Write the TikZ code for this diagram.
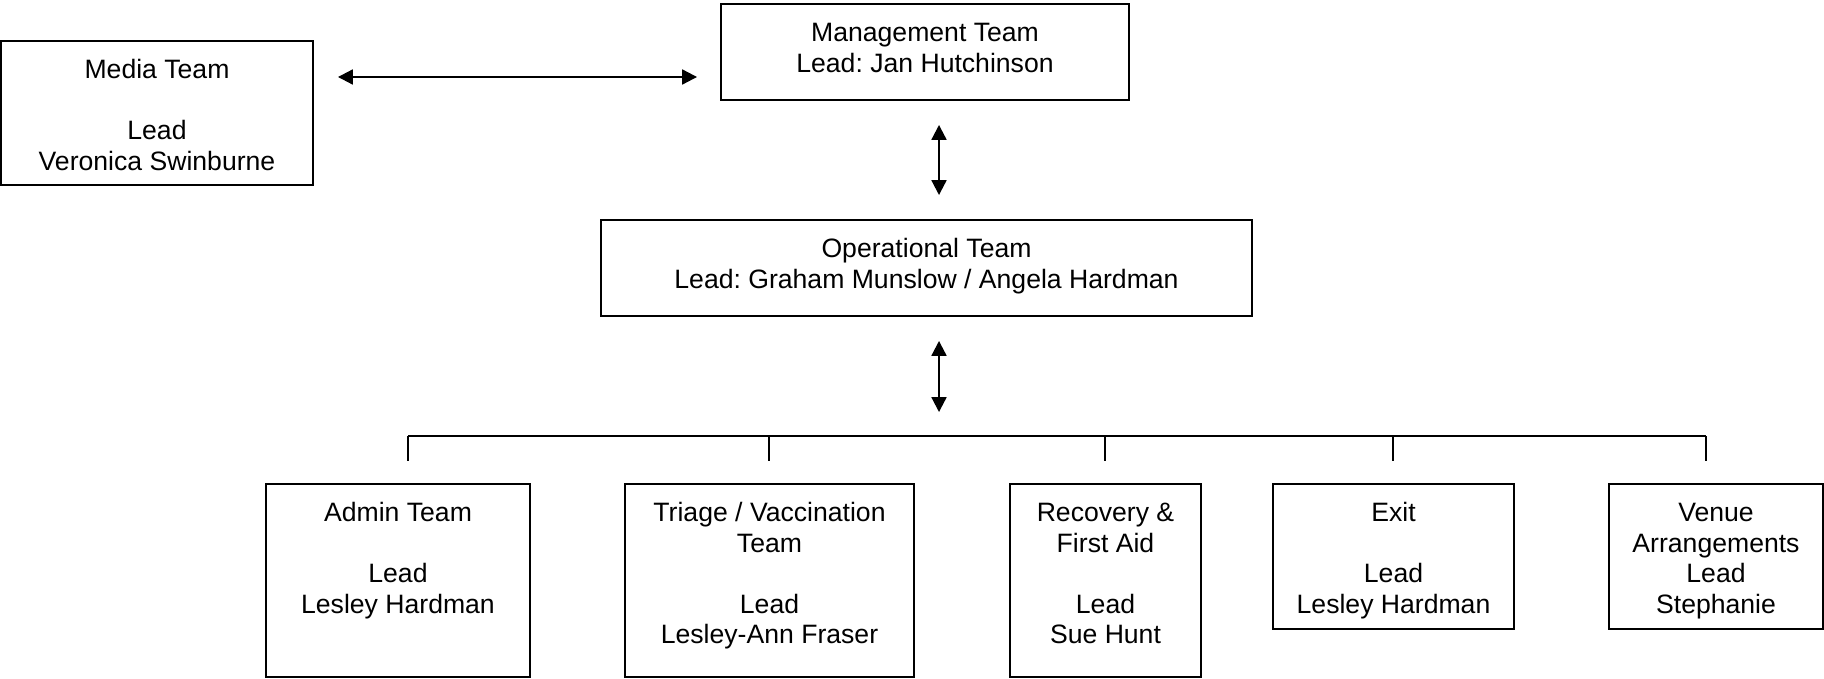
\documentclass[tikz,border=0pt]{standalone}
\usepackage{fontspec}
\setmainfont{Liberation Sans}
\usetikzlibrary{arrows.meta}
\frenchspacing
\tikzset{
  box/.style={draw, line width=0.8pt, inner sep=0pt, outer sep=0pt},
  lbl/.style={anchor=north, inner sep=0pt, align=center,
    font=\fontsize{13.3pt}{15.25pt}\selectfont},
  link/.style={line width=0.7pt},
  dbl/.style={line width=0.8pt, {Triangle[length=7.4pt,width=7.5pt]}-{Triangle[length=7.4pt,width=7.5pt]}},
}
\newcommand{\blank}{\\[15.25pt]}
\begin{document}
\begin{tikzpicture}[x=0.5pt,y=-0.5pt]
\useasboundingbox (0,0) rectangle (1824,679);
% boxes
\node[box, minimum width=156pt, minimum height=72pt] (media) at (157,113) {};
\node[box, minimum width=204pt, minimum height=48pt] (mgmt) at (925,52) {};
\node[box, minimum width=325.5pt, minimum height=48pt] (op) at (926.5,268) {};
\node[box, minimum width=132pt, minimum height=96.5pt] (admin) at (398,580.5) {};
\node[box, minimum width=144.5pt, minimum height=96.5pt] (triage) at (769.5,580.5) {};
\node[box, minimum width=95.5pt, minimum height=96.5pt] (recov) at (1105.5,580.5) {};
\node[box, minimum width=120.5pt, minimum height=72.5pt] (exit) at (1393.5,556.5) {};
\node[box, minimum width=107pt, minimum height=72.5pt] (venue) at (1716,556.5) {};
% texts
\node[lbl] (tmedia) at ([yshift=-8pt]media.north) {\strut Media Team\blank Lead\\Veronica Swinburne};
\node[lbl] (tmgmt) at ([yshift=-8pt]mgmt.north) {\strut Management Team\\Lead: Jan Hutchinson};
\node[lbl] (top) at ([yshift=-8pt]op.north) {\strut Operational Team\\Lead: Graham Munslow / Angela Hardman};
\node[lbl] (tadmin) at ([yshift=-8pt]admin.north) {\strut Admin Team\blank Lead\\Lesley Hardman};
\node[lbl] (ttriage) at ([yshift=-8pt]triage.north) {\strut Triage / Vaccination\\Team\blank Lead\\Lesley-Ann Fraser};
\node[lbl] (trecov) at ([yshift=-8pt]recov.north) {\strut Recovery \&\\First Aid\blank Lead\\Sue Hunt};
\node[lbl] (texit) at ([yshift=-8pt]exit.north) {\strut Exit\blank Lead\\Lesley Hardman};
\node[lbl] (tvenue) at ([yshift=-8pt]venue.north) {\strut Venue\\Arrangements\\Lead\\Stephanie};
% helper coordinates
\coordinate (hy) at (0,77);
\coordinate (ax) at (939,0);
\coordinate (busmid) at (939,436);
\coordinate (b1) at (408,436);  \coordinate (e1) at (408,461);
\coordinate (b2) at (769,436);  \coordinate (e2) at (769,461);
\coordinate (b3) at (1105,436); \coordinate (e3) at (1105,461);
\coordinate (b4) at (1393,436); \coordinate (e4) at (1393,461);
\coordinate (b5) at (1706,436); \coordinate (e5) at (1706,461);
% connectors
\draw[dbl, shorten <=12.5pt, shorten >=12pt] (media.east |- hy) -- (mgmt.west |- hy);
\draw[dbl, shorten <=12.5pt, shorten >=12.5pt] (mgmt.south -| ax) -- (op.north -| ax);
\draw[dbl, shorten <=12.5pt, shorten >=12pt] (op.south -| ax) -- (busmid);
\draw[link] (b1) -- (b5);
\draw[link] (b1) -- (e1);
\draw[link] (b2) -- (e2);
\draw[link] (b3) -- (e3);
\draw[link] (b4) -- (e4);
\draw[link] (b5) -- (e5);
\end{tikzpicture}
\end{document}
